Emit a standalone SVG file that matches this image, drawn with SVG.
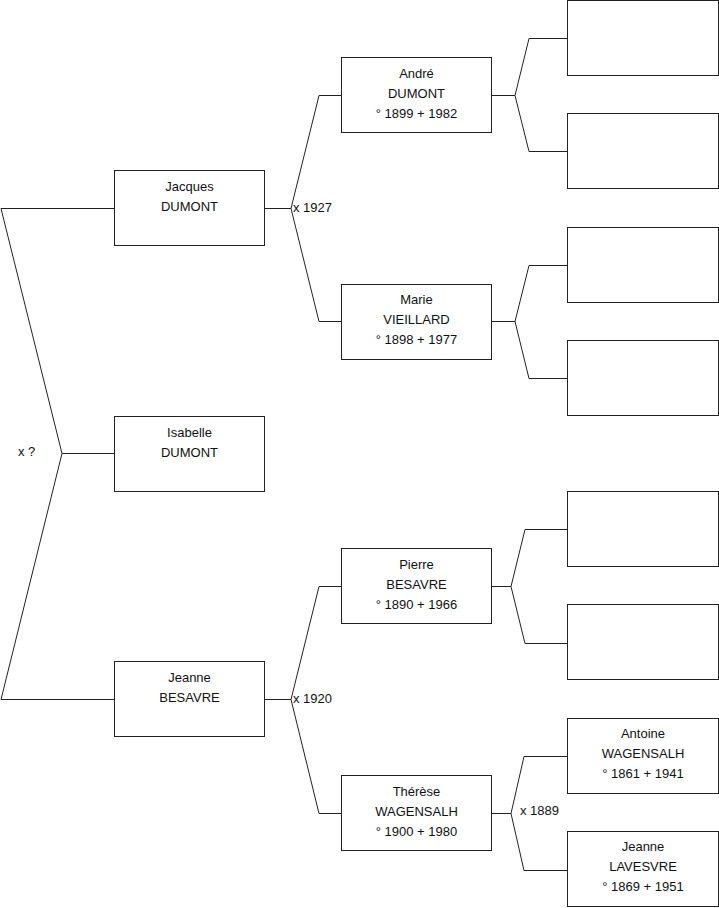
<svg xmlns="http://www.w3.org/2000/svg" width="719" height="908" viewBox="0 0 719 908">
<style>
.box{fill:#fff;stroke:#222;stroke-width:1}
.ln{fill:none;stroke:#222;stroke-width:1}
text{font-family:"Liberation Sans",Arial,sans-serif;font-size:13px;fill:#111}
.c{text-anchor:middle}
</style>
<rect width="719" height="908" fill="#fff"/>
<g id="connectors">
<polyline class="ln" points="114,208.5 1,208.5 62,453.5 1,699.5 114,699.5"/>
<line class="ln" x1="62" y1="453.5" x2="114" y2="453.5"/>
<polyline class="ln" points="341,95.5 319,95.5 291,208.5 319,321.5 341,321.5"/>
<line class="ln" x1="265" y1="208.5" x2="291" y2="208.5"/>
<polyline class="ln" points="341,586.5 319,586.5 291,699.5 319,813.5 341,813.5"/>
<line class="ln" x1="265" y1="699.5" x2="291" y2="699.5"/>
<polyline class="ln" points="567,38.5 529,38.5 515,95.5 529,151.5 567,151.5"/>
<line class="ln" x1="492" y1="95.5" x2="515" y2="95.5"/>
<polyline class="ln" points="567,265.5 529,265.5 515,321.5 529,378.5 567,378.5"/>
<line class="ln" x1="492" y1="321.5" x2="515" y2="321.5"/>
<polyline class="ln" points="567,529.5 525,529.5 511,586.5 525,643.5 567,643.5"/>
<line class="ln" x1="492" y1="586.5" x2="511" y2="586.5"/>
<polyline class="ln" points="567,756.5 524,756.5 511,813.5 524,870.5 567,870.5"/>
<line class="ln" x1="492" y1="813.5" x2="511" y2="813.5"/>
<text x="18" y="456">x ?</text>
<text x="293" y="212">x 1927</text>
<text x="293" y="703">x 1920</text>
<text x="520" y="815">x 1889</text>
</g>
<g id="jacques"><rect class="box" x="114.5" y="170.5" width="150" height="75"/><text class="c" x="189.5" y="191">Jacques</text><text class="c" x="189.5" y="211">DUMONT</text></g>
<g id="isabelle"><rect class="box" x="114.5" y="416.5" width="150" height="75"/><text class="c" x="189.5" y="437">Isabelle</text><text class="c" x="189.5" y="457">DUMONT</text></g>
<g id="jeanne-b"><rect class="box" x="114.5" y="661.5" width="150" height="75"/><text class="c" x="189.5" y="682">Jeanne</text><text class="c" x="189.5" y="702">BESAVRE</text></g>
<g id="andre"><rect class="box" x="341.5" y="57.5" width="150" height="75"/><text class="c" x="416.5" y="78">André</text><text class="c" x="416.5" y="98">DUMONT</text><text class="c" x="416.5" y="118">° 1899 + 1982</text></g>
<g id="marie"><rect class="box" x="341.5" y="284.5" width="150" height="75"/><text class="c" x="416.5" y="304">Marie</text><text class="c" x="416.5" y="324">VIEILLARD</text><text class="c" x="416.5" y="344">° 1898 + 1977</text></g>
<g id="pierre"><rect class="box" x="341.5" y="548.5" width="150" height="75"/><text class="c" x="416.5" y="569">Pierre</text><text class="c" x="416.5" y="589">BESAVRE</text><text class="c" x="416.5" y="609">° 1890 + 1966</text></g>
<g id="therese"><rect class="box" x="341.5" y="775.5" width="150" height="75"/><text class="c" x="416.5" y="796">Thérèse</text><text class="c" x="416.5" y="816">WAGENSALH</text><text class="c" x="416.5" y="836">° 1900 + 1980</text></g>
<g id="empty1"><rect class="box" x="567.5" y="0.5" width="151" height="75"/></g>
<g id="empty2"><rect class="box" x="567.5" y="113.5" width="151" height="75"/></g>
<g id="empty3"><rect class="box" x="567.5" y="227.5" width="151" height="75"/></g>
<g id="empty4"><rect class="box" x="567.5" y="340.5" width="151" height="75"/></g>
<g id="empty5"><rect class="box" x="567.5" y="491.5" width="151" height="75"/></g>
<g id="empty6"><rect class="box" x="567.5" y="604.5" width="151" height="75"/></g>
<g id="antoine"><rect class="box" x="567.5" y="718.5" width="151" height="75"/><text class="c" x="643" y="738">Antoine</text><text class="c" x="643" y="758">WAGENSALH</text><text class="c" x="643" y="778">° 1861 + 1941</text></g>
<g id="jeanne-l"><rect class="box" x="567.5" y="831.5" width="151" height="75"/><text class="c" x="643" y="851">Jeanne</text><text class="c" x="643" y="871">LAVESVRE</text><text class="c" x="643" y="891">° 1869 + 1951</text></g>
</svg>
